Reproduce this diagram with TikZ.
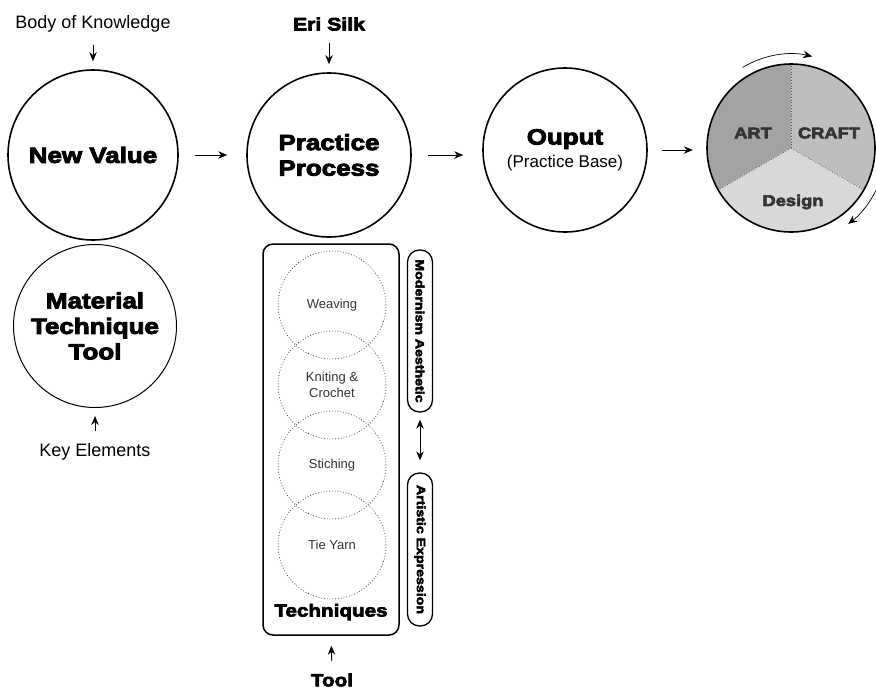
\documentclass[tikz,border=0pt]{standalone}
\usepackage{fontspec}
\setmainfont{Liberation Sans}
\newfontfamily\heavy[FakeStretch=1.18,FakeBold=4]{Liberation Sans Bold}
\usetikzlibrary{arrows.meta}
\definecolor{artgray}{HTML}{A3A3A3}
\definecolor{craftgray}{HTML}{BEBEBE}
\definecolor{designgray}{HTML}{D8D8D8}
\definecolor{ink}{HTML}{333333}
\begin{document}
\begin{tikzpicture}[x=1pt,y=-1pt,
  arr/.style={-{Stealth[length=9pt,width=7.5pt]},line width=0.9pt},
  dblarr/.style={{Stealth[length=9pt,width=7.5pt]}-{Stealth[length=9pt,width=7.5pt]},line width=0.9pt},
  bigcircle/.style={circle,draw,line width=1.6pt,inner sep=0pt,align=center},
  headfont/.style={font=\heavy\fontsize{22}{25.5}\selectfont},
  plain/.style={font=\fontsize{18}{21}\selectfont},
  techcircle/.style={circle,draw=black!70,dotted,line width=0.8pt,minimum size=108pt,inner sep=0pt,
    align=center,text=ink,font=\fontsize{13}{16}\selectfont},
  pill/.style={rectangle,draw,line width=1.3pt,rounded corners=12pt,rotate=-90,minimum height=25pt,
    inner sep=0pt,font=\heavy\fontsize{12}{14}\selectfont},
  piefont/.style={text=ink,font=\heavy\fontsize{15.5}{18}\selectfont}]
\useasboundingbox (0,0) rectangle (876,691);

% top row of circles
\node[bigcircle,headfont,minimum size=170pt] (nv) at (93,155) {New Value};
\node[bigcircle,headfont,minimum size=164pt] (pp) at (329,155) {Practice\\Process};
\node[bigcircle,minimum size=164pt] (out) at (565,150)
  {{\heavy\fontsize{22}{24}\selectfont Ouput}\\[5pt]{\fontsize{17}{20}\selectfont (Practice Base)}};

% inputs from above
\node[plain] (bok) at (93,24) {Body of Knowledge};
\node[font=\heavy\fontsize{18}{21}\selectfont] (silk) at (329,24) {Eri Silk};
\draw[arr,shorten <=9pt,shorten >=8pt] (bok.south) -- (nv.north);
\draw[arr,shorten <=9pt,shorten >=8pt] (silk.south) -- (pp.north);

% flow between the circles
\draw[arr,shorten <=16pt,shorten >=19pt] (nv) -- (pp);
\draw[arr,shorten <=16pt,shorten >=19pt] (pp.east) -- (pp.east -| out.west);
\draw[arr,shorten <=14pt] (out.east) -- ++(45,0) coordinate (pieL);

% art / craft / design pie (y axis points down, so angles are negated)
\node[circle,minimum size=168pt,inner sep=0pt] (pie) at (791,148) {};
\fill[artgray] (pie.center) -- ++(-90:84) arc[start angle=-90,end angle=-210,radius=84] -- cycle;
\fill[craftgray] (pie.center) -- ++(30:84) arc[start angle=30,end angle=-90,radius=84] -- cycle;
\fill[designgray] (pie.center) -- ++(-210:84) arc[start angle=-210,end angle=-330,radius=84] -- cycle;
\draw[black!65,dotted,line width=0.8pt] (pie.center) -- (pie.90);
\draw[black!65,dotted,line width=0.8pt] (pie.center) -- (pie.210);
\draw[black!65,dotted,line width=0.8pt] (pie.center) -- (pie.-30);
\draw[line width=1.6pt] (pie) circle[radius=84];
\node[piefont] (art) at (753,133) {ART};
\node[piefont] (craft) at (829,133) {CRAFT};
\node[piefont] (design) at (793,202) {Design};
\draw[arr,line width=0.7pt] (pie.center) ++(-121:94) arc[start angle=-121,end angle=-77,radius=94];
\draw[arr,line width=0.7pt] (pie.center) ++(25:95) arc[start angle=25,end angle=53,radius=95];

% key elements circle
\node[bigcircle,headfont,line width=1pt,minimum size=163pt] (mtt) at (95,326) {Material\\Technique\\Tool};
\node[plain] (key) at (95,452) {Key Elements};
\draw[arr,shorten <=9pt,shorten >=8pt] (key.north) -- (mtt.south);

% techniques column
\node[rectangle,draw,line width=1.5pt,rounded corners=10pt,minimum width=136pt,minimum height=391pt,inner sep=0pt]
  (tech) at (331,439.5) {};
\node[techcircle] (weav) at (332,305) {Weaving};
\node[techcircle] (knit) at (332,385) {Kniting \&\\Crochet};
\node[techcircle] (stich) at (332,465) {Stiching};
\node[techcircle] (tie) at (332,545) {Tie Yarn};
\node[font=\heavy\fontsize{17.5}{20}\selectfont] (techlbl) at (331,612) {Techniques};
\node[font=\heavy\fontsize{17.5}{20}\selectfont] (tool) at (332,680) {Tool};
\draw[arr,shorten <=9pt,shorten >=10pt] (tool.north) -- (tech.south);

% side labels
\node[pill,minimum width=162pt] (mod) at (420,331) {Modernism Aesthetic};
\node[pill,minimum width=153pt] (artexp) at (420,549.5) {Artistic Expression};
\draw[dblarr,shorten <=7pt,shorten >=12pt] (mod.east) -- (artexp.west);
\end{tikzpicture}
\end{document}
